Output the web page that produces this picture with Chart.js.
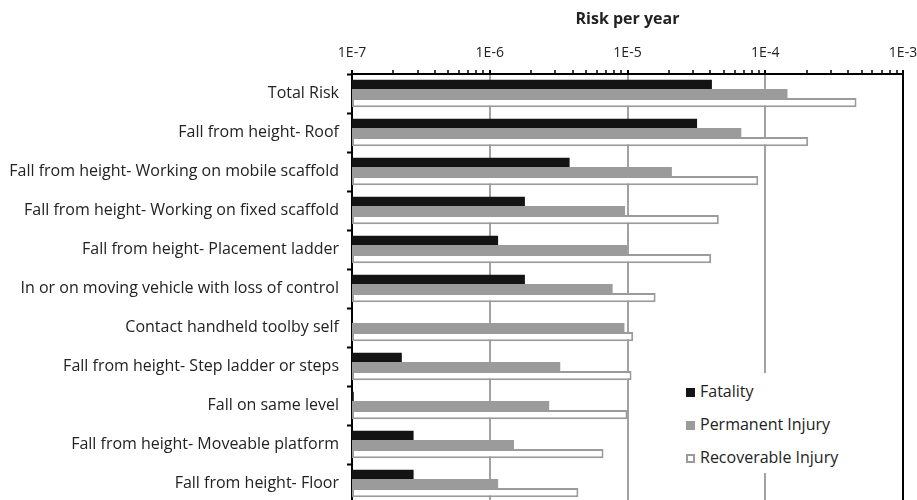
<!DOCTYPE html>
<html>
<head>
<meta charset="utf-8">
<script src="https://cdn.jsdelivr.net/npm/chart.js@4/dist/chart.umd.min.js"></script>
<style>
  html, body { margin: 0; padding: 0; background: #fff; overflow: hidden; }
  #wrap { position: relative; width: 917px; height: 500px; overflow: hidden; }
  #legend {
    position: absolute; left: 679px; top: 373px; width: 172px; height: 100px;
    background: #fff; font-family: "Open Sans", sans-serif; font-size: 16px; color: #222;
  }
  .item { position: absolute; left: 7px; height: 20px; line-height: 20px; white-space: nowrap; }
  .box { display: inline-block; width: 9px; height: 9px; margin-right: 5px; box-sizing: border-box; vertical-align: 0; }
</style>
</head>
<body>
<div id="wrap">
  <canvas id="chart" width="917" height="510"></canvas>
  <div id="legend"></div>
</div>
<script>
/* Risk per year by accident type, log scale */

const categories = [
  "Total Risk",
  "Fall from height- Roof",
  "Fall from height- Working on mobile scaffold",
  "Fall from height- Working on fixed scaffold",
  "Fall from height- Placement ladder",
  "In or on moving vehicle with loss of control",
  "Contact handheld toolby self",
  "Fall from height- Step ladder or steps",
  "Fall on same level",
  "Fall from height- Moveable platform",
  "Fall from height- Floor",
];

const fatality = [4.1e-5, 3.2e-5, 3.8e-6, 1.8e-6, 1.15e-6, 1.8e-6, null, 2.3e-7, 1.03e-7, 2.8e-7, 2.8e-7];
const permanentInjury = [1.45e-4, 6.7e-5, 2.1e-5, 9.6e-6, 1.0e-5, 7.8e-6, 9.5e-6, 3.25e-6, 2.7e-6, 1.5e-6, 1.15e-6];
const recoverableInjury = [4.6e-4, 2.05e-4, 8.9e-5, 4.6e-5, 4.05e-5, 1.6e-5, 1.1e-5, 1.07e-5, 1.0e-5, 6.7e-6, 4.4e-6];

const decadeValues = [1e-7, 1e-6, 1e-5, 1e-4, 1e-3];
const decadeLabels = ["1E-7", "1E-6", "1E-5", "1E-4", "1E-3"];

// major ticks at each decade, minor ticks at 2..9 inside
const tickValues = [];
decadeValues.forEach((d, i) => {
  tickValues.push(d);
  if (i < decadeValues.length - 1) {
    for (let m = 2; m <= 9; m++) tickValues.push(m * d);
  }
});

const isDecade = (v) => decadeValues.indexOf(v) !== -1;

const seriesStyle = [
  { label: "Fatality", data: fatality, backgroundColor: "#141414", borderColor: "#141414", borderWidth: 0 },
  { label: "Permanent Injury", data: permanentInjury, backgroundColor: "#9b9b9b", borderColor: "#9b9b9b", borderWidth: 0 },
  { label: "Recoverable Injury", data: recoverableInjury, backgroundColor: "#ffffff", borderColor: "#9b9b9b", borderWidth: 2, borderSkipped: false },
];

const ctx = document.getElementById("chart").getContext("2d");
const chart = new Chart(ctx, {
  type: "bar",
  data: {
    labels: categories,
    datasets: seriesStyle.map((s) => ({ ...s, categoryPercentage: 0.7, barPercentage: 1.0 })),
  },
  options: {
    indexAxis: "y",
    responsive: false,
    animation: false,
    devicePixelRatio: 1,
    layout: { padding: { left: 0, right: 0, top: 0, bottom: 7 } },
    plugins: { legend: { display: false }, tooltip: { enabled: false } },
    scales: {
      x: {
        type: "logarithmic",
        position: "top",
        min: 1e-7,
        max: 1e-3,
        afterBuildTicks: (scale) => {
          scale.ticks = tickValues.map((v) => ({ value: v, major: isDecade(v) }));
        },
        afterFit: (scale) => {
          scale.height = 74;
          scale.paddingLeft = 0;
          scale.paddingRight = 14;
        },
        title: {
          display: true,
          text: "Risk per year",
          color: "#222",
          font: { family: "Open Sans", size: 16, weight: "bold" },
          padding: { top: 10, bottom: 0 },
        },
        ticks: {
          autoSkip: false,
          maxRotation: 0,
          padding: 9,
          color: "#222",
          font: { family: "Open Sans", size: 14 },
          callback: (value) => {
            const i = decadeValues.indexOf(value);
            return i === -1 ? "" : decadeLabels[i];
          },
        },
        grid: {
          drawTicks: true,
          tickLength: 4,
          lineWidth: 2,
          color: (c) => {
            const v = c.tick && c.tick.value;
            if (v === 1e-3) return "#000";
            if (v === 1e-7) return "#000";
            return isDecade(v) ? "#a2a2a2" : "rgba(0,0,0,0)";
          },
          tickColor: "#000",
          tickWidth: (c) => (c.tick && isDecade(c.tick.value) ? 2 : 1.5),
        },
        border: { display: true, color: "#000", width: 2 },
      },
      y: {
        type: "category",
        position: "left",
        afterFit: (scale) => {
          scale.width = 352;
          scale.paddingTop = 0;
          scale.paddingBottom = 0;
        },
        ticks: {
          padding: 8,
          color: "#222",
          font: { family: "Open Sans", size: 16 },
        },
        grid: {
          drawOnChartArea: false,
          drawTicks: true,
          tickLength: 5,
          tickColor: "#000",
          tickWidth: 2,
        },
        border: { display: true, color: "#000", width: 2 },
      },
    },
  },
});

// legend inside the plot, built from the datasets
const legendEl = document.getElementById("legend");
chart.data.datasets.forEach((ds, i) => {
  const item = document.createElement("div");
  item.className = "item";
  item.style.top = 8 + i * 33 + "px";
  const box = document.createElement("span");
  box.className = "box";
  box.style.background = ds.backgroundColor;
  box.style.border = ds.borderWidth ? ds.borderWidth + "px solid " + ds.borderColor : "none";
  item.appendChild(box);
  item.appendChild(document.createTextNode(ds.label));
  legendEl.appendChild(item);
});
</script>
</body>
</html>
